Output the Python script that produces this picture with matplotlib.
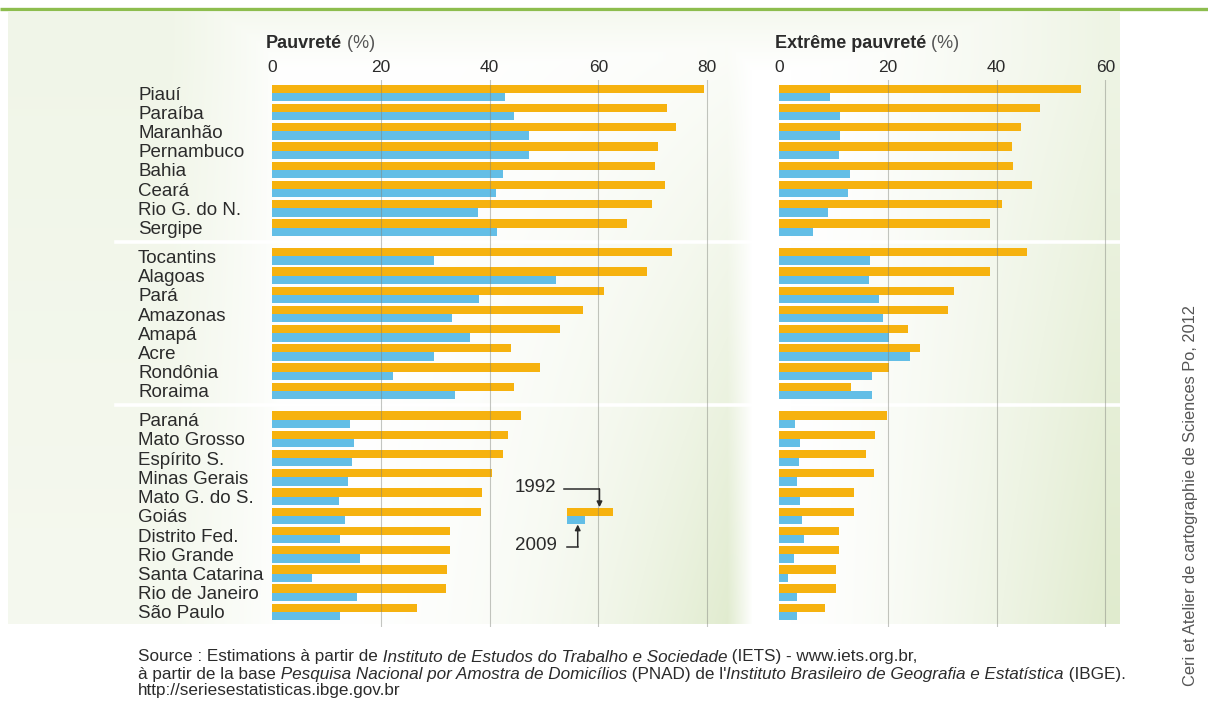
import numpy as np
import matplotlib.pyplot as plt

# ─────────────────────────────────────────────────────────────────────────────
# Data (Brazilian states, % of population, 1992 vs 2009)
# ─────────────────────────────────────────────────────────────────────────────

REGIONS = [
    "Piauí", "Paraíba", "Maranhão", "Pernambuco", "Bahia", "Ceará",
    "Rio G. do N.", "Sergipe",
    "Tocantins", "Alagoas", "Pará", "Amazonas", "Amapá", "Acre",
    "Rondônia", "Roraima",
    "Paraná", "Mato Grosso", "Espírito S.", "Minas Gerais", "Mato G. do S.",
    "Goiás", "Distrito Fed.", "Rio Grande", "Santa Catarina",
    "Rio de Janeiro", "São Paulo",
]
GROUP_SIZES = [8, 8, 11]

POV_1992 = [79.5, 72.7, 74.2, 70.9, 70.4, 72.2, 69.8, 65.3,
            73.6, 68.9, 61.1, 57.2, 52.9, 44.0, 49.2, 44.5,
            45.8, 43.3, 42.5, 40.4, 38.6, 38.4, 32.7, 32.7, 32.1, 32.0, 26.7]
POV_2009 = [42.8, 44.5, 47.3, 47.3, 42.5, 41.1, 37.8, 41.3,
            29.7, 52.2, 38.0, 33.1, 36.4, 29.8, 22.3, 33.6,
            14.3, 15.0, 14.7, 13.9, 12.4, 13.4, 12.5, 16.1, 7.4, 15.6, 12.5]
EXT_1992 = [55.5, 48.0, 44.5, 42.8, 43.0, 46.5, 41.0, 38.8,
            45.5, 38.8, 32.2, 31.0, 23.8, 26.0, 20.2, 13.3,
            19.9, 17.7, 16.0, 17.4, 13.7, 13.7, 11.0, 11.1, 10.4, 10.4, 8.5]
EXT_2009 = [9.4, 11.3, 11.3, 11.0, 13.0, 12.6, 9.0, 6.3,
            16.7, 16.5, 18.3, 19.2, 20.2, 24.0, 17.1, 17.1,
            3.0, 3.8, 3.6, 3.4, 3.8, 4.3, 4.6, 2.7, 1.7, 3.4, 3.3]

TICKS_POV = [0, 20, 40, 60, 80]
TICKS_EXT = [0, 20, 40, 60]

# ─────────────────────────────────────────────────────────────────────────────
# Style
# ─────────────────────────────────────────────────────────────────────────────

W, H = 1208, 720
ORANGE = "#f6b20f"
BLUE = "#63bee6"
TXT = "#2b2b2b"
GREEN_LINE = "#8dbd4e"
NARROW = ["Liberation Sans Narrow", "Liberation Sans", "DejaVu Sans"]

plt.rcParams["font.family"] = ["Liberation Sans", "DejaVu Sans"]

ROW_PX = 19.22     # pixels per row
X_PX = 5.44        # pixels per percent


def fx(px):
    return px / W


def fy(py):
    return 1 - py / H


def _background(ax_bg):
    """Soft green/white decorative gradient behind the panels."""
    x0, x1, y0, y1 = 8, 1120, 12, 624
    X, Y = np.meshgrid(np.arange(x0, x1), np.arange(y0, y1))
    v = np.clip((Y - 60) / 560, 0, 1)
    lab = 0.42 * np.clip((280 - X) / 110, 0, 1) ** 0.7 * (0.7 + 0.3 * (1 - v))
    u = np.clip((X - 272) / 460, 0, 1.1)
    lp = 0.9 * u ** 2.4 * (0.15 + 0.85 * v) * np.clip((752 - X) / 25, 0, 1)
    r = np.clip((X - 790) / 320, 0, 1)
    rp = 0.9 * r ** 1.4 * (0.55 + 0.45 * v)
    top = 0.3 * np.clip((70 - Y) / 60, 0, 1)
    s = np.maximum.reduce([lab, lp, rp, top])
    white = np.array([1.0, 1.0, 1.0])
    green = np.array([221, 233, 201]) / 255
    img = white + (green - white) * s[..., None]
    ax_bg.imshow(img, extent=(x0, x1, y1, y0), aspect="auto",
                 interpolation="bilinear", zorder=0)


def _panel(ax, ypos, v92, v09, xmax, ticks):
    ax.barh(ypos - 0.215, v92, height=0.43, color=ORANGE, zorder=2)
    ax.barh(ypos + 0.215, v09, height=0.43, color=BLUE, zorder=2)
    for t in ticks[1:]:
        ax.axvline(t, color="#7d8078", lw=0.8, alpha=0.45, zorder=3)
    ax.set_xlim(0, xmax)
    ax.set_ylim(ypos[-1] + 0.8, -0.7)
    ax.set_facecolor("none")
    for sp in ax.spines.values():
        sp.set_visible(False)
    ax.xaxis.tick_top()
    ax.set_xticks(ticks)
    ax.tick_params(axis="x", length=0, pad=3, labelsize=12.5, labelcolor=TXT)
    for lbl in ax.get_xticklabels():
        lbl.set_family(NARROW)


def _rich_line(ax, x, y, parts, size=12.3):
    prev = None
    for txt, style in parts:
        kw = dict(fontsize=size, color=TXT, family=NARROW, style=style,
                  ha="left", annotation_clip=False)
        if prev is None:
            prev = ax.annotate(txt, xy=(x, y), xycoords="data",
                               va="center", **kw)
        else:
            prev = ax.annotate(txt, xy=(1, 0), xycoords=prev,
                               va="bottom", **kw)


def main():
    ypos = []
    start = 0.0
    for n in GROUP_SIZES:
        ypos.extend(start + np.arange(n))
        start += n + 0.5
    ypos = np.array(ypos)

    fig = plt.figure(figsize=(W / 100, H / 100), dpi=100)
    fig.patch.set_facecolor("white")

    # background layer in pixel coordinates
    ax_bg = fig.add_axes([0, 0, 1, 1], zorder=0)
    ax_bg.set_xlim(0, W)
    ax_bg.set_ylim(H, 0)
    ax_bg.axis("off")
    _background(ax_bg)
    ax_bg.plot([0, W], [9, 9], color=GREEN_LINE, lw=2.4, solid_capstyle="butt")

    # group separators (between row groups)
    cut_rows = [ypos[GROUP_SIZES[0] - 1] + 0.75,
                ypos[GROUP_SIZES[0] + GROUP_SIZES[1] - 1] + 0.75]

    top_px = 93 - 0.7 * ROW_PX
    bot_px = 93 + (ypos[-1] + 0.8) * ROW_PX
    ax_h = (bot_px - top_px) / H

    xmax_l, xmax_r = 84, 63
    ax_l = fig.add_axes([fx(272), fy(bot_px), xmax_l * X_PX / W, ax_h], zorder=2)
    ax_r = fig.add_axes([fx(779), fy(bot_px), xmax_r * X_PX / W, ax_h], zorder=2)

    for c in cut_rows:
        ypx = 93 + c * ROW_PX
        ax_bg.plot([116, 1120], [ypx, ypx], color="white", lw=2.6, zorder=1)

    _panel(ax_l, ypos, POV_1992, POV_2009, xmax_l, TICKS_POV)
    _panel(ax_r, ypos, EXT_1992, EXT_2009, xmax_r, TICKS_EXT)

    ax_l.set_yticks(ypos, REGIONS)
    ax_l.tick_params(axis="y", length=0, pad=(272 - 138) * 0.72,
                     labelsize=13.5, labelcolor=TXT)
    for lbl in ax_l.get_yticklabels():
        lbl.set_ha("left")
    ax_r.set_yticks([])

    # panel titles
    for x, bold in [(266, "Pauvreté"), (775, "Extrême pauvreté")]:
        t = ax_bg.text(x, 43, bold, fontsize=13, fontweight="bold",
                       color=TXT, family=NARROW, va="center", ha="left")
        ax_bg.annotate(" (%)", xy=(1, 0), xycoords=t, va="bottom", ha="left",
                       fontsize=13, color="#555555", family=NARROW)

    # legend key (1992 / 2009)
    key_y, key_x, key_w92, key_w09 = 22, 54.2, 8.5, 3.4
    ax_l.barh(key_y - 0.215, key_w92, left=key_x, height=0.43, color=ORANGE, zorder=2)
    ax_l.barh(key_y + 0.215, key_w09, left=key_x, height=0.43, color=BLUE, zorder=2)
    ax_l.text(52.2, 20.55, "1992", ha="right", va="center", fontsize=13.5, color=TXT)
    ax_l.text(52.4, 23.55, "2009", ha="right", va="center", fontsize=13.5, color=TXT)
    ax_l.plot([53.7, 60.2], [20.6, 20.6], color=TXT, lw=1.1, zorder=4)
    ax_l.annotate("", xy=(60.2, key_y - 0.45), xytext=(60.2, 20.6),
                  arrowprops=dict(arrowstyle="-|>", color=TXT, lw=1.1,
                                  shrinkA=0, shrinkB=0, mutation_scale=8),
                  zorder=4)
    ax_l.plot([54.3, 56.2], [23.6, 23.6], color=TXT, lw=1.1, zorder=4)
    ax_l.annotate("", xy=(56.2, key_y + 0.45), xytext=(56.2, 23.6),
                  arrowprops=dict(arrowstyle="-|>", color=TXT, lw=1.1,
                                  shrinkA=0, shrinkB=0, mutation_scale=8),
                  zorder=4)

    # source
    _rich_line(ax_bg, 138, 657, [
        ("Source : Estimations à partir de", "normal"),
        (" Instituto de Estudos do Trabalho e Sociedade", "italic"),
        (" (IETS) - www.iets.org.br,", "normal"),
    ])
    _rich_line(ax_bg, 138, 674, [
        ("à partir de la base", "normal"),
        (" Pesquisa Nacional por Amostra de Domicílios", "italic"),
        (" (PNAD) de l'", "normal"),
        ("Instituto Brasileiro de Geografia e Estatística", "italic"),
        (" (IBGE).", "normal"),
    ])
    _rich_line(ax_bg, 138, 691, [("http://seriesestatisticas.ibge.gov.br", "normal")])

    ax_bg.text(1190, 496, "Ceri et Atelier de cartographie de Sciences Po, 2012",
               rotation=90, ha="center", va="center", fontsize=11.8,
               color="#555555")

    fig.savefig("out.png", dpi=100)
    plt.close(fig)


if __name__ == "__main__":
    main()
